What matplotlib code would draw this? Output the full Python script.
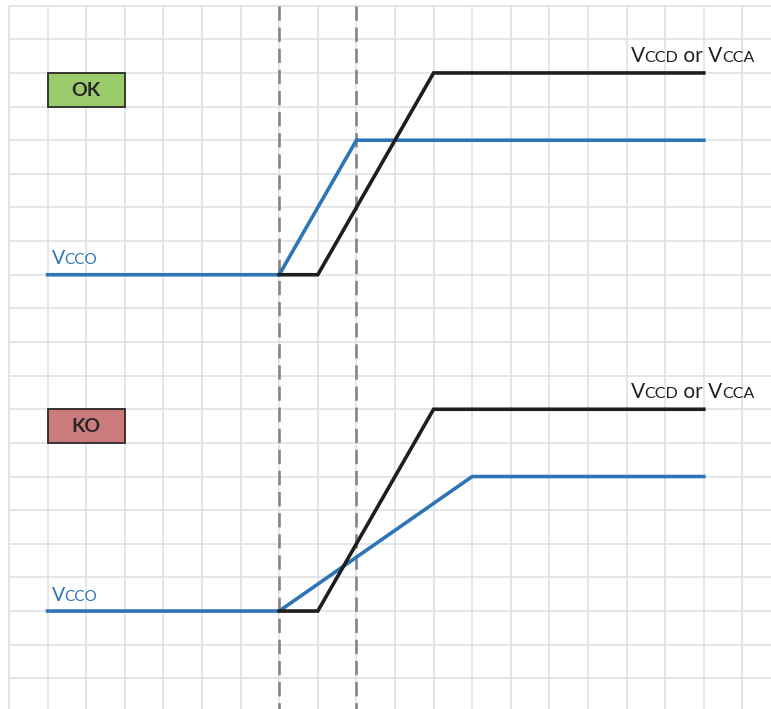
import matplotlib
matplotlib.use("Agg")
import matplotlib.pyplot as plt
from matplotlib.patches import Rectangle
from matplotlib.offsetbox import TextArea, HPacker, AnnotationBbox

# ---- data (grid units: x = time column, y = row, counted downward) ----
ok_vcco_x = [1, 7, 9, 18]
ok_vcco_y = [8, 8, 4, 4]
ok_vccd_x = [7, 8, 11, 18]
ok_vccd_y = [8, 8, 2, 2]

ko_vcco_x = [1, 7, 12, 18]
ko_vcco_y = [18, 18, 14, 14]
ko_vccd_x = [7, 8, 11, 18]
ko_vccd_y = [18, 18, 12, 12]

marker_cols = [7, 9]
panel_labels = ["OK", "KO"]
panel_label_rows = [2, 12]
panel_colors = ["#9BCB6B", "#CB7B7B"]

BLUE = "#2E75B6"
BLACK = "#1E1E1E"
FONT = "Lato"

W, H = 771, 709
fig = plt.figure(figsize=(W / 100, H / 100), dpi=100)
ax = fig.add_axes([0, 0, 1, 1])

x0, dx = 9.0, 38.6
y0, dy = 5.7, 33.63
ax.set_xlim(-x0 / dx, (W - x0) / dx)
ax.set_ylim((H - y0) / dy, -y0 / dy)
ax.axis("off")

# grid
ymax = (H - y0) / dy
xmax = (W - x0) / dx
for c in range(0, 21):
    ax.plot([c, c], [0, ymax + 1], color="#DDE0E4", lw=1.1, zorder=1, solid_capstyle="butt")
for r in range(0, 22):
    ax.plot([0, xmax + 1], [r, r], color="#DDE0E4", lw=1.1, zorder=1, solid_capstyle="butt")

# dashed markers
for c in marker_cols:
    ax.plot([c, c], [0, ymax + 1], color="#858585", lw=1.9,
            linestyle=(0, (5.4, 2.6)), zorder=2)

# lines
ax.plot(ok_vcco_x, ok_vcco_y, color=BLUE, lw=2.6, zorder=3, solid_joinstyle="miter")
ax.plot(ok_vccd_x, ok_vccd_y, color=BLACK, lw=2.6, zorder=4, solid_joinstyle="miter")
ax.plot(ko_vcco_x, ko_vcco_y, color=BLUE, lw=2.6, zorder=3, solid_joinstyle="miter")
ax.plot(ko_vccd_x, ko_vccd_y, color=BLACK, lw=2.6, zorder=4, solid_joinstyle="miter")

# label boxes
for lab, r, col in zip(panel_labels, panel_label_rows, panel_colors):
    ax.add_patch(Rectangle((1, r), 2, 1, facecolor=col, edgecolor="#2A2A2A",
                           lw=1.3, zorder=5))
    ax.text(2, r + 0.52, lab, ha="center", va="center", fontsize=14,
            fontweight="bold", color="#262626", family=FONT, zorder=6)


def smallcaps(parts, color, xy, big, small):
    children = []
    for txt, is_big in parts:
        children.append(TextArea(txt, textprops=dict(size=big if is_big else small,
                                                      color=color, family=FONT)))
    pack = HPacker(children=children, align="baseline", pad=0, sep=0)
    ab = AnnotationBbox(pack, xy, xycoords="data", box_alignment=(0, 0),
                        frameon=False, pad=0, zorder=6)
    ax.add_artist(ab)


for base in [8, 18]:
    smallcaps([("V", True), ("CCO", False)], BLUE, (1.1, base - 0.22), 14, 11)
for top in [2, 12]:
    smallcaps([("V", True), ("CCD", False), (" or V", True), ("CCA", False)],
              "#222222", (16.1, top - 0.22), 15, 11.5)

fig.savefig("out.png", dpi=100)
